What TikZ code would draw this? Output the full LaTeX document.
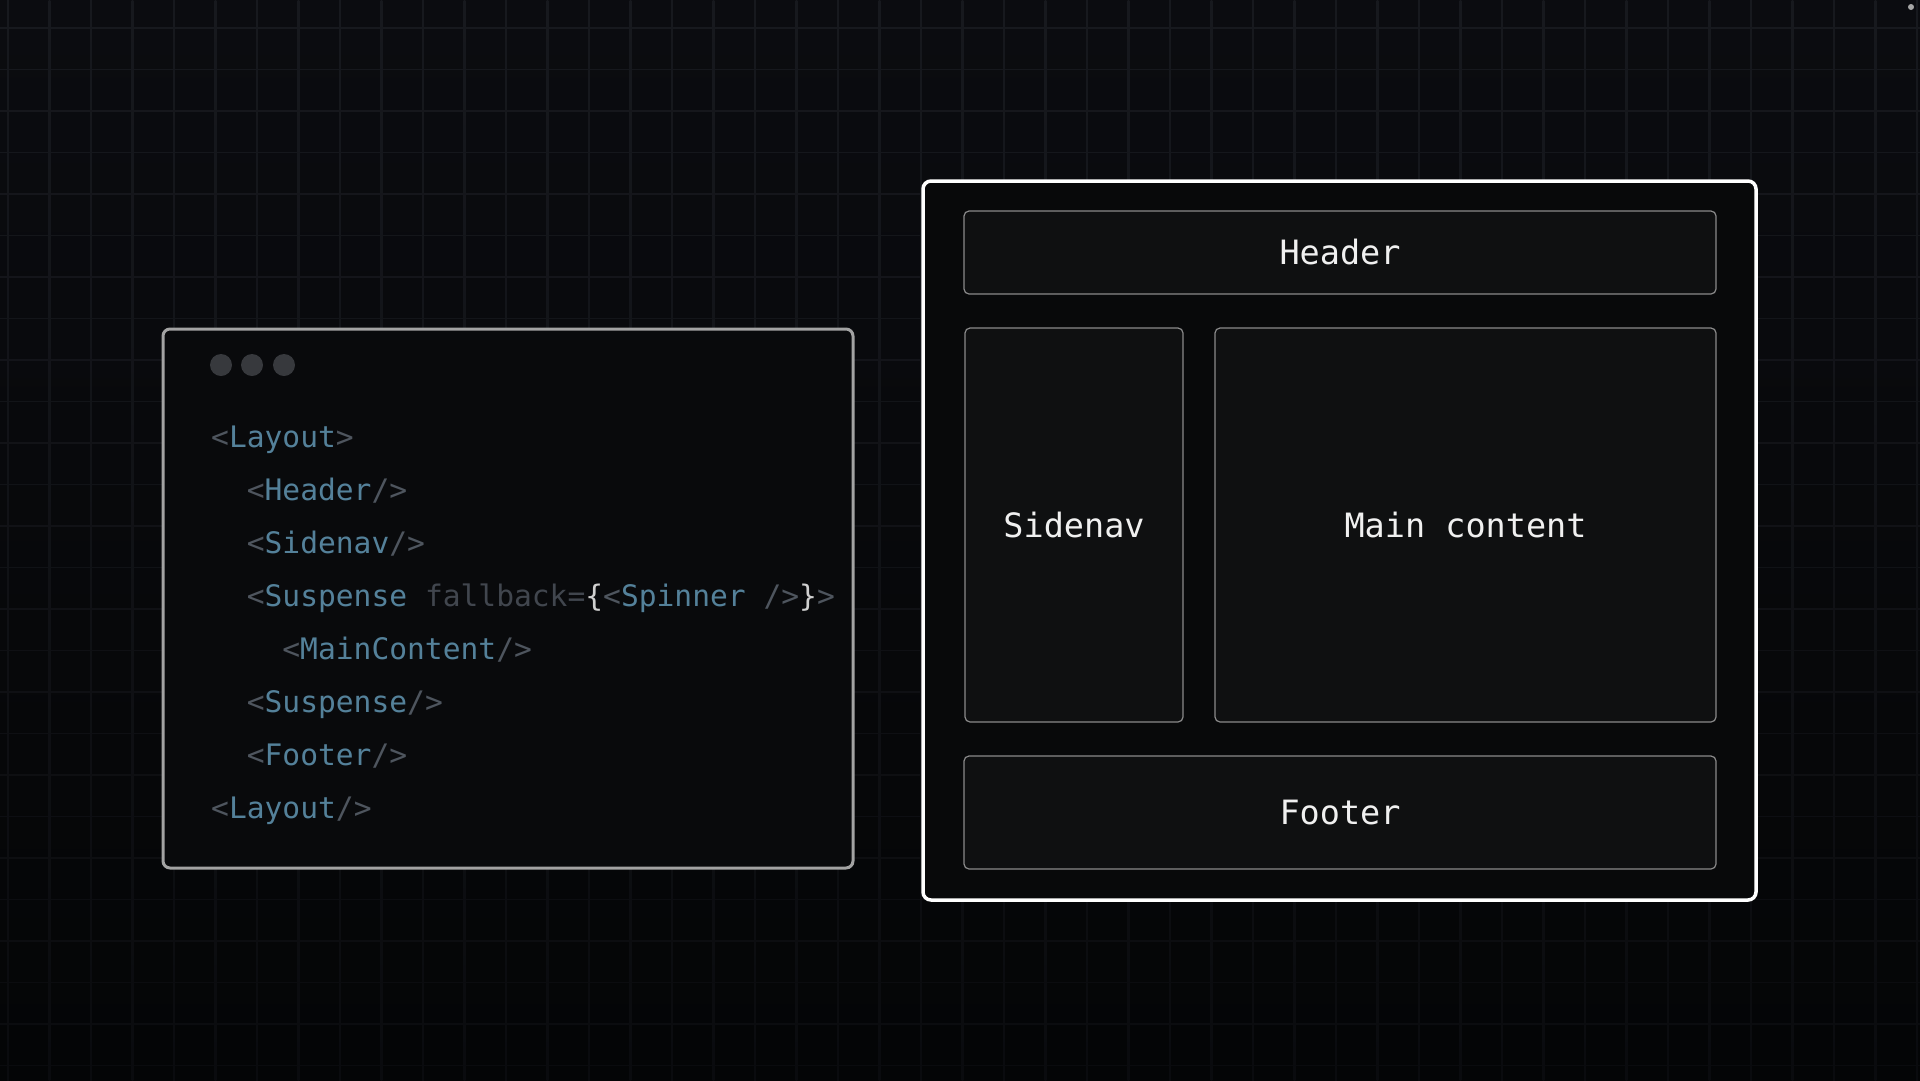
\documentclass[tikz,border=0pt]{standalone}
\usepackage{fontspec}
\newfontfamily\codefont{DejaVu Sans Mono}
\definecolor{bgtop}{HTML}{0B0C10}
\definecolor{bgbot}{HTML}{040506}
\definecolor{gridtop}{HTML}{17191E}
\definecolor{gridbot}{HTML}{0A0B0E}
\definecolor{tagc}{HTML}{54819A}
\definecolor{punc}{HTML}{4E555E}
\definecolor{attr}{HTML}{41464E}
\definecolor{bracec}{HTML}{D0D0D0}
\definecolor{codefill}{HTML}{090A0C}
\definecolor{codeborder}{HTML}{A3A3A3}
\definecolor{outerfill}{HTML}{08090A}
\definecolor{boxfill}{HTML}{0F1011}
\definecolor{boxborder}{HTML}{8A8A8A}
\definecolor{dotc}{HTML}{37393D}
\newcommand{\pc}[1]{\textcolor{punc}{#1}}
\newcommand{\tg}[1]{\textcolor{tagc}{#1}}
\tikzset{
  codepanel/.style={draw=codeborder, line width=3pt, fill=codefill, rounded corners=7pt, inner sep=0pt},
  outerpanel/.style={draw=white, line width=3.5pt, fill=outerfill, rounded corners=8pt, inner sep=0pt},
  layoutbox/.style={draw=boxborder, line width=1.2pt, fill=boxfill, rounded corners=5pt, inner sep=0pt,
    text=white!94!black, font=\codefont\fontsize{33.5}{40}\selectfont},
  codeline/.style={anchor=base west, inner sep=0pt, font=\codefont\fontsize{29.6}{36}\selectfont},
  windot/.style={circle, fill=dotc, minimum size=22pt, inner sep=0pt},
}
\begin{document}
\begin{tikzpicture}[x=1pt,y=-1pt]
\useasboundingbox (0,0) rectangle (1920,1080);
% background
\fill[top color=bgtop, bottom color=bgbot] (0,0) rectangle (1920,1080);
% grid
\foreach \gx in {8,49.5,...,1920}{
  \fill[top color=gridtop, bottom color=gridbot] (\gx-0.8,0) rectangle (\gx+0.8,1080);
}
\foreach \gy in {28,69.5,...,1080}{
  \pgfmathtruncatemacro{\pp}{100-\gy/1080*100}
  \draw[line width=1.6pt, color=gridtop!\pp!gridbot] (0,\gy) -- (1920,\gy);
}
\fill[color=gray!70] (1911,7) circle (3pt);
% code panel
\node[codepanel, minimum width=690pt, minimum height=539pt] (code) at (508,598.5) {};
\node[windot] (d1) at (221,365) {};
\node[windot] (d2) at (252,365) {};
\node[windot] (d3) at (284,365) {};
\node[codeline] (l1) at (211,447) {\pc{<}\tg{Layout}\pc{>}};
\node[codeline] (l2) at (246.6,500) {\pc{<}\tg{Header}\pc{/>}};
\node[codeline] (l3) at (246.6,553) {\pc{<}\tg{Sidenav}\pc{/>}};
\node[codeline] (l4) at (246.6,606) {\pc{<}\tg{Suspense} \textcolor{attr}{fallback=}\textcolor{bracec}{\{}\pc{<}\tg{Spinner} \pc{/>}\textcolor{bracec}{\}}\pc{>}};
\node[codeline] (l5) at (282.2,659) {\pc{<}\tg{MainContent}\pc{/>}};
\node[codeline] (l6) at (246.6,712) {\pc{<}\tg{Suspense}\pc{/>}};
\node[codeline] (l7) at (246.6,765) {\pc{<}\tg{Footer}\pc{/>}};
\node[codeline] (l8) at (211,818) {\pc{<}\tg{Layout}\pc{/>}};
% layout panel
\node[outerpanel, minimum width=833pt, minimum height=719pt] (outer) at (1339.5,540.5) {};
\node[layoutbox, minimum width=752pt, minimum height=83pt] (header) at (1340,252.5) {Header};
\node[layoutbox, minimum width=218pt, minimum height=394pt] (sidenav) at (1074,525) {Sidenav};
\node[layoutbox, minimum width=501pt, minimum height=394pt] (main) at (1465.5,525) {Main content};
\node[layoutbox, minimum width=752pt, minimum height=113pt] (footer) at (1340,812.5) {Footer};
\end{tikzpicture}
\end{document}
